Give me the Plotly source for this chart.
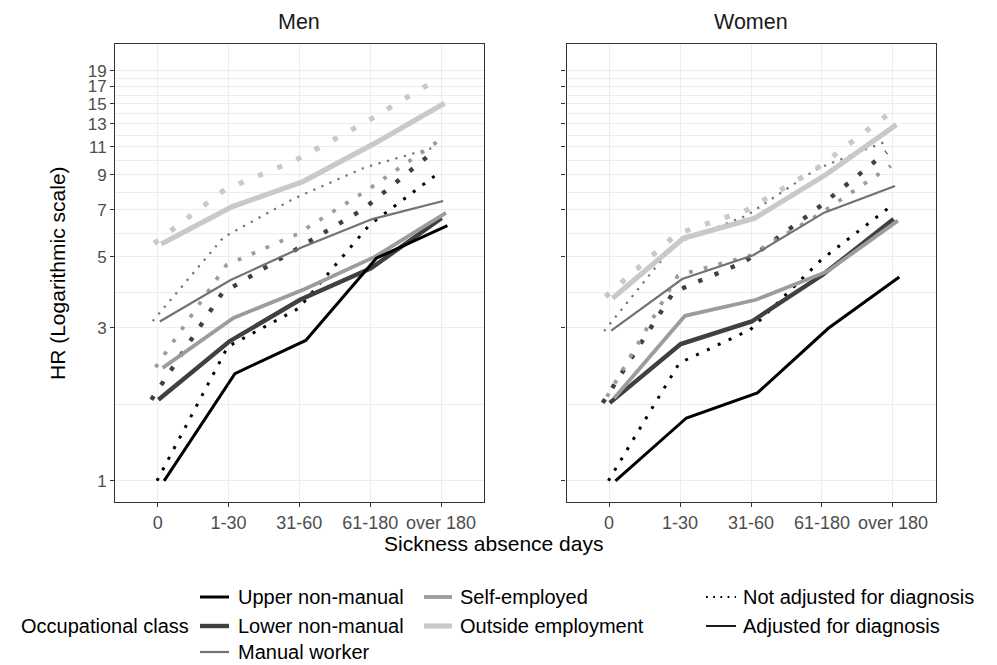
import math
import plotly.graph_objects as go

# ---------------- data ----------------
categories = ["0", "1-30", "31-60", "61-180", "over 180"]
class_labels = ["Upper non-manual", "Lower non-manual", "Manual worker",
                "Self-employed", "Outside employment"]
adjust_labels = ["Not adjusted for diagnosis", "Adjusted for diagnosis"]
panel_labels = ["Men", "Women"]
y_tick_values = [1, 3, 5, 7, 9, 11, 13, 15, 17, 19]

# Men - not adjusted for diagnosis (dotted)
men_upper_not_adj = [1.0, 2.62, 3.45, 6.28, 9.2]
men_lower_not_adj = [1.79, 3.85, 5.2, 7.05, 10.7]
men_manual_not_adj = [3.15, 5.75, 7.6, 9.5, 11.0]
men_self_not_adj = [2.26, 4.71, 5.88, 8.1, 11.5]
men_outside_not_adj = [5.5, 8.1, 10.0, 13.2, 17.9]
# Men - adjusted for diagnosis (solid)
men_upper_adj = [1.0, 2.16, 2.74, 4.95, 6.25]
men_lower_adj = [1.79, 2.72, 3.67, 4.6, 6.6]
men_manual_adj = [3.14, 4.23, 5.34, 6.55, 7.46]
men_self_adj = [2.25, 3.22, 3.96, 5.0, 6.85]
men_outside_adj = [5.48, 7.16, 8.57, 11.24, 15.05]

# Women - not adjusted for diagnosis (dotted)
women_upper_not_adj = [1.0, 2.33, 2.96, 4.89, 7.24]
women_lower_not_adj = [1.75, 3.88, 4.82, 7.0, 10.6]
women_manual_not_adj = [2.93, 5.5, 6.7, 9.4, 11.5]
women_self_not_adj = [1.83, 4.37, 5.02, 6.8, 9.6]
women_outside_not_adj = [3.75, 5.88, 7.0, 9.5, 14.0]
# Women - adjusted for diagnosis (solid)
women_upper_adj = [1.0, 1.57, 1.88, 2.99, 4.32]
women_lower_adj = [1.75, 2.67, 3.14, 4.39, 6.55]
women_manual_adj = [2.94, 4.26, 5.05, 6.86, 8.31]
women_self_adj = [1.81, 3.27, 3.67, 4.49, 6.48]
women_outside_adj = [3.71, 5.71, 6.59, 9.0, 12.9]

series = {
    ("Men", "Not adjusted for diagnosis"): [men_upper_not_adj, men_lower_not_adj, men_manual_not_adj,
                                            men_self_not_adj, men_outside_not_adj],
    ("Men", "Adjusted for diagnosis"): [men_upper_adj, men_lower_adj, men_manual_adj,
                                        men_self_adj, men_outside_adj],
    ("Women", "Not adjusted for diagnosis"): [women_upper_not_adj, women_lower_not_adj, women_manual_not_adj,
                                              women_self_not_adj, women_outside_not_adj],
    ("Women", "Adjusted for diagnosis"): [women_upper_adj, women_lower_adj, women_manual_adj,
                                          women_self_adj, women_outside_adj],
}

# ---------------- styles ----------------
W, H = 997, 665
FONT = "Liberation Sans, Arial, Helvetica, sans-serif"
class_color = {"Upper non-manual": "#000000", "Lower non-manual": "#404040",
               "Manual worker": "#727272", "Self-employed": "#9C9C9C",
               "Outside employment": "#C9C9C9"}
class_width = {"Upper non-manual": 3.0, "Lower non-manual": 4.4, "Manual worker": 2.2,
               "Self-employed": 3.8, "Outside employment": 5.2}
# position_dodge(width=0.2): alphabetical class order within each adjustment group
dodge_order = ["Lower non-manual", "Manual worker", "Outside employment",
               "Self-employed", "Upper non-manual"]
adjust_base = {"Not adjusted for diagnosis": -0.09, "Adjusted for diagnosis": 0.01}


def dash_for(adj, w):
    if adj.startswith("Not"):
        return f"{w:.2f}px,{3 * w:.2f}px"
    return "solid"


def px_x(p):
    return p / W


def px_y(p):
    return 1 - p / H


fig = go.Figure()
axis_suffix = {"Men": "", "Women": "2"}
for panel in panel_labels:
    for adj in adjust_labels:
        vals = dict(zip(class_labels, series[(panel, adj)]))
        for cls in dodge_order:
            off = adjust_base[adj] + 0.02 * dodge_order.index(cls)
            w = class_width[cls]
            fig.add_trace(go.Scatter(
                x=[i + off for i in range(len(categories))],
                y=vals[cls],
                mode="lines",
                line=dict(color=class_color[cls], width=w, dash=dash_for(adj, w)),
                xaxis="x" + axis_suffix[panel], yaxis="y" + axis_suffix[panel],
                hoverinfo="skip", showlegend=False,
                name=f"{panel} - {cls} - {adj}",
            ))

ymin_px, ymax_px = 502, 44
px_per_ln = (480.8 - 70.8) / math.log(19)
y_range = [((480.8 - ymin_px) / px_per_ln) / math.log(10), ((480.8 - ymax_px) / px_per_ln) / math.log(10)]
minor_vals = [math.sqrt(a * b) for a, b in zip(y_tick_values[:-1], y_tick_values[1:])]

grid_col = "#EDEDED"
tick_font = dict(family=FONT, size=17, color="#4D4D4D")
common_x = dict(range=[-0.6, 4.6], tickmode="array", tickvals=list(range(len(categories))),
                ticktext=categories, showgrid=True, gridcolor=grid_col, gridwidth=1.1,
                zeroline=False, showline=True, mirror=True, linecolor="#333333", linewidth=1.2,
                ticks="outside", ticklen=4, tickwidth=1.1, tickcolor="#333333",
                tickfont=dict(tick_font, size=18), automargin=False, fixedrange=True)
common_y = dict(type="log", range=y_range, tickmode="array", tickvals=y_tick_values,
                ticktext=[str(v) for v in y_tick_values], showgrid=True, gridcolor=grid_col,
                gridwidth=1.1, zeroline=False, showline=True, mirror=True, linecolor="#333333",
                linewidth=1.2, ticks="outside", ticklen=4, tickwidth=1.1, tickcolor="#333333",
                tickfont=tick_font, automargin=False,
                minor=dict(tickmode="array", tickvals=minor_vals, showgrid=True,
                           gridcolor=grid_col, gridwidth=1.0, ticklen=0),
                domain=[px_y(ymin_px), px_y(ymax_px)], fixedrange=True)

fig.update_layout(
    width=W, height=H, margin=dict(l=0, r=0, t=0, b=0),
    plot_bgcolor="white", paper_bgcolor="white", showlegend=False,
    font=dict(family=FONT, color="#000000"),
    xaxis=dict(common_x, domain=[px_x(115.2), px_x(483.5)], anchor="y"),
    xaxis2=dict(common_x, domain=[px_x(566.5), px_x(935.5)], anchor="y2"),
    yaxis=dict(common_y, anchor="x"),
    yaxis2=dict(common_y, anchor="x2", showticklabels=False),
)

ann = []
shapes = []
# panel titles
ann.append(dict(text="Men", x=px_x(299.3), y=px_y(22), xref="paper", yref="paper",
                showarrow=False, font=dict(size=21.5, family=FONT, color="#1A1A1A"),
                xanchor="center", yanchor="middle"))
ann.append(dict(text="Women", x=px_x(751), y=px_y(22), xref="paper", yref="paper",
                showarrow=False, font=dict(size=21.5, family=FONT, color="#1A1A1A"),
                xanchor="center", yanchor="middle"))
# axis titles
ann.append(dict(text="Sickness absence days", x=px_x(493), y=px_y(543), xref="paper", yref="paper",
                showarrow=False, font=dict(size=21, family=FONT, color="#000000"),
                xanchor="center", yanchor="middle"))
ann.append(dict(text="HR (Logarithmic scale)", x=px_x(58), y=px_y(273), xref="paper", yref="paper",
                showarrow=False, textangle=-90, font=dict(size=21, family=FONT, color="#000000"),
                xanchor="center", yanchor="middle"))

# legend (drawn manually to keep ggplot's column-major layout)
leg_font = dict(size=20, family=FONT, color="#000000")
row_y = [597, 626, 652]
ann.append(dict(text="Occupational class", x=px_x(191), y=px_y(row_y[1]), xref="paper", yref="paper",
                showarrow=False, font=leg_font, xanchor="right", yanchor="middle"))
col_keys = [(200, 229, 236), (424, 452, 458)]
for idx, cls in enumerate(class_labels):
    col, row = divmod(idx, 3)
    k0, k1, tx = col_keys[col]
    yy = px_y(row_y[row])
    shapes.append(dict(type="line", xref="paper", yref="paper", x0=px_x(k0), x1=px_x(k1), y0=yy, y1=yy,
                       line=dict(color=class_color[cls], width=class_width[cls])))
    ann.append(dict(text=cls, x=px_x(tx), y=yy, xref="paper", yref="paper", showarrow=False,
                    font=leg_font, xanchor="left", yanchor="middle"))
for row, adj in enumerate(adjust_labels):
    yy = px_y(row_y[row])
    lw = 1.8
    shapes.append(dict(type="line", xref="paper", yref="paper", x0=px_x(706), x1=px_x(736), y0=yy, y1=yy,
                       line=dict(color="#000000", width=lw, dash=dash_for(adj, lw))))
    ann.append(dict(text=adj, x=px_x(741), y=yy, xref="paper", yref="paper", showarrow=False,
                    font=leg_font, xanchor="left", yanchor="middle"))

fig.update_layout(annotations=ann, shapes=shapes)
fig.write_html("out.html", config={"displayModeBar": False},
               post_script="document.body.style.margin='0';document.body.style.overflow='hidden';")
